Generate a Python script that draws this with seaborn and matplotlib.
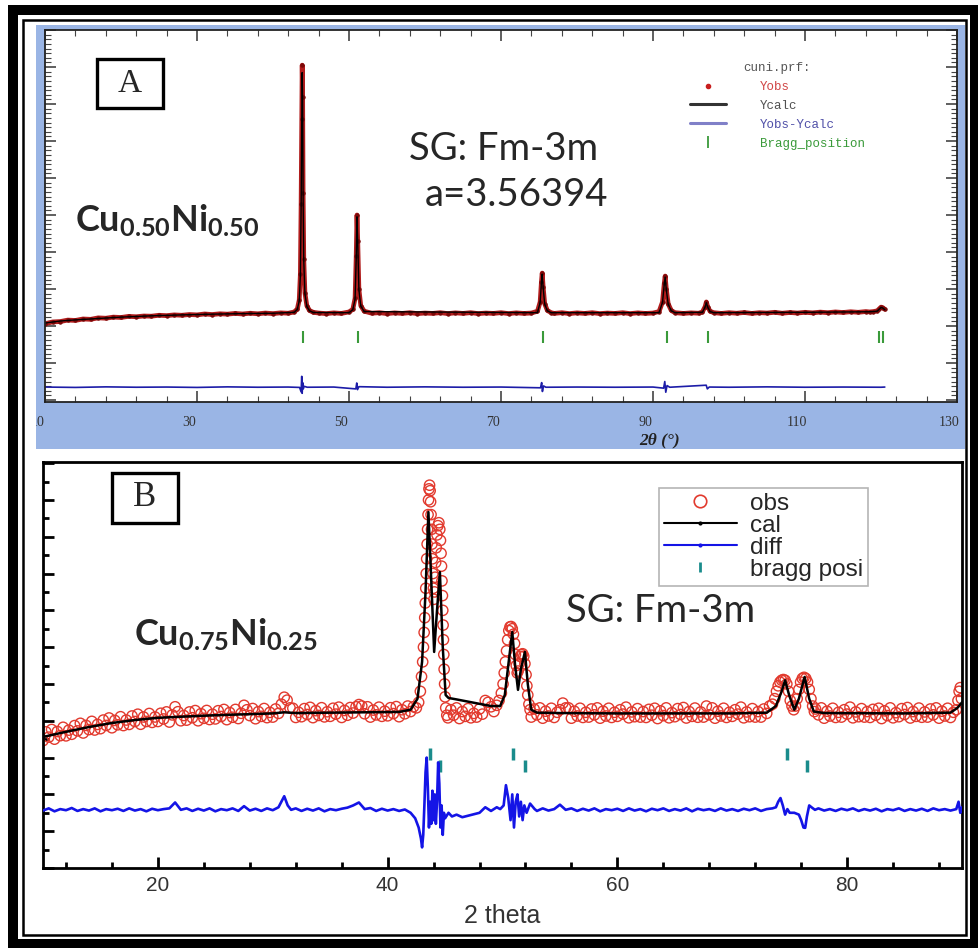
import matplotlib
matplotlib.use("Agg")
import matplotlib.pyplot as plt
import matplotlib.transforms as mtransforms
import seaborn as sns
from matplotlib.patches import Rectangle
from matplotlib.lines import Line2D
from matplotlib.ticker import MultipleLocator

W, H = 979, 948

# ---------------- Panel A : Cu0.50Ni0.50 (FullProf plot) ----------------
a_tth_obs = [10, 11, 12, 13, 14, 15, 16, 17, 18, 19,
             20, 21, 22, 23, 24, 25, 26, 27, 28, 29,
             30, 31, 32, 33, 34, 35, 36, 37, 38, 39,
             40, 41, 42, 42.8, 43.2, 43.45, 43.6, 43.7, 43.78, 43.84,
             43.9, 43.96, 44.05, 44.2, 44.45, 44.8, 45.3, 46, 47, 48,
             49, 50, 50.5, 50.8, 50.95, 51.05, 51.15, 51.3, 51.55, 52,
             53, 54, 55, 56, 57, 58, 59, 60, 61, 62,
             63, 64, 65, 66, 67, 68, 69, 70, 71, 72,
             73, 74, 74.8, 75.15, 75.32, 75.42, 75.55, 75.75, 76.1, 76.6,
             77, 78, 79, 80, 81, 82, 83, 84, 85, 86,
             87, 88, 89, 90, 90.8, 91.25, 91.48, 91.6, 91.75, 92.0,
             92.4, 92.9, 94, 95, 96, 96.5, 96.85, 97.02, 97.2, 97.5,
             98, 99, 100, 101, 102, 103, 104, 105, 106, 107,
             108, 109, 110, 111, 112, 113, 114, 115, 116, 117,
             118, 118.5, 119, 119.5, 119.8, 120.0, 120.2, 120.5]
a_obs = [2060, 2110, 2120, 2160, 2150, 2190, 2180, 2220, 2210, 2240,
         2230, 2260, 2250, 2270, 2265, 2290, 2280, 2300, 2290, 2310,
         2300, 2325, 2310, 2330, 2320, 2340, 2325, 2345, 2330, 2350,
         2335, 2355, 2345, 2380, 2460, 2700, 3400, 5300, 7600, 9050,
         8200, 5600, 3800, 2900, 2550, 2420, 2370, 2350, 2335, 2355,
         2340, 2380, 2450, 2750, 3900, 5000, 4300, 3000, 2550, 2400,
         2345, 2360, 2335, 2355, 2340, 2360, 2335, 2350, 2340, 2360,
         2335, 2355, 2340, 2360, 2335, 2350, 2340, 2360, 2335, 2355,
         2340, 2350, 2400, 2650, 3200, 3430, 3050, 2600, 2420, 2360,
         2340, 2360, 2335, 2355, 2340, 2360, 2335, 2350, 2340, 2360,
         2335, 2355, 2340, 2350, 2390, 2650, 3150, 3350, 3000, 2600,
         2420, 2360, 2340, 2355, 2345, 2380, 2520, 2650, 2520, 2400,
         2360, 2340, 2360, 2345, 2365, 2340, 2360, 2350, 2370, 2345,
         2365, 2350, 2370, 2355, 2375, 2360, 2380, 2365, 2385, 2370,
         2390, 2380, 2390, 2410, 2470, 2510, 2500, 2450]

a_tth_calc = [10, 12, 14, 16, 18, 20, 24, 28, 32, 36,
              40, 42.8, 43.2, 43.45, 43.6, 43.7, 43.78, 43.84, 43.9, 43.96,
              44.05, 44.2, 44.45, 44.8, 45.3, 50, 50.5, 50.8, 50.95, 51.05,
              51.15, 51.3, 51.55, 52, 74.8, 75.15, 75.32, 75.42, 75.55, 75.75,
              76.1, 76.6, 90.8, 91.25, 91.48, 91.6, 91.75, 92.0, 92.4, 92.9,
              96.5, 96.85, 97.02, 97.2, 97.5, 98, 110, 118.5, 119.5, 119.8,
              120.0, 120.2, 120.5]
a_calc = [2080, 2135, 2165, 2190, 2215, 2240, 2275, 2300, 2320, 2335,
          2345, 2370, 2450, 2680, 3350, 5200, 7500, 8850, 8100, 5500,
          3750, 2880, 2530, 2410, 2365, 2360, 2440, 2730, 3850, 4950,
          4250, 2980, 2540, 2390, 2360, 2640, 3180, 3400, 3030, 2590,
          2410, 2360, 2360, 2640, 3130, 3320, 2980, 2590, 2410, 2360,
          2370, 2510, 2630, 2510, 2390, 2360, 2370, 2385, 2400, 2460,
          2500, 2490, 2440]

a_tth_diff = [10, 14, 18, 22, 26, 30, 34, 38, 42, 43.5,
              43.7, 43.78, 43.84, 43.9, 43.98, 44.1, 44.5, 48, 50.9, 51.02,
              51.12, 51.3, 55, 60, 65, 70, 75.2, 75.35, 75.45, 75.6,
              75.9, 80, 85, 90, 91.4, 91.55, 91.68, 91.85, 92.2, 97.0,
              97.15, 97.4, 100, 105, 110, 115, 120, 120.5]
a_diff = [350, 340, 355, 345, 350, 340, 355, 345, 350, 340,
          220, 640, 180, 470, 300, 370, 345, 350, 300, 460,
          280, 360, 345, 355, 345, 350, 330, 470, 230, 380,
          345, 350, 345, 350, 320, 500, 210, 390, 345, 400,
          300, 350, 345, 355, 345, 350, 345, 350]

a_bragg = [43.9, 51.2, 75.5, 91.8, 97.2, 119.7, 120.2]
a_xticks = [10, 30, 50, 70, 90, 110, 130]
a_legend_labels = ["Yobs", "Ycalc", "Yobs-Ycalc", "Bragg_position"]

# ---------------- Panel B : Cu0.75Ni0.25 ----------------
b_tth_obs = [10.0, 10.25, 10.5, 10.75, 11.0, 11.25, 11.5, 11.75, 12.0, 12.25,
             12.5, 12.75, 13.0, 13.25, 13.5, 13.75, 14.0, 14.25, 14.5, 14.75,
             15.0, 15.25, 15.5, 15.75, 16.0, 16.25, 16.5, 16.75, 17.0, 17.25,
             17.5, 17.75, 18.0, 18.25, 18.5, 18.75, 19.0, 19.25, 19.5, 19.75,
             20.0, 20.25, 20.5, 20.75, 21.0, 21.25, 21.5, 21.75, 22.0, 22.25,
             22.5, 22.75, 23.0, 23.25, 23.5, 23.75, 24.0, 24.25, 24.5, 24.75,
             25.0, 25.25, 25.5, 25.75, 26.0, 26.25, 26.5, 26.75, 27.0, 27.25,
             27.5, 27.75, 28.0, 28.25, 28.5, 28.75, 29.0, 29.25, 29.5, 29.75,
             30.0, 30.25, 30.5, 30.75, 31.0, 31.25, 31.5, 31.75, 32.0, 32.25,
             32.5, 32.75, 33.0, 33.25, 33.5, 33.75, 34.0, 34.25, 34.5, 34.75,
             35.0, 35.25, 35.5, 35.75, 36.0, 36.25, 36.5, 36.75, 37.0, 37.25,
             37.5, 37.75, 38.0, 38.25, 38.5, 38.75, 39.0, 39.25, 39.5, 39.75,
             40.0, 40.25, 40.5, 40.75, 41.0, 41.25, 41.5, 41.75, 42.0, 42.25,
             42.5, 42.7, 42.85, 42.95, 43.05, 43.12, 43.18, 43.23, 43.28, 43.32,
             43.36, 43.4, 43.44, 43.48, 43.52, 43.56, 43.6, 43.65, 43.7, 43.74,
             43.78, 43.82, 43.86, 43.9, 43.94, 43.98, 44.03, 44.08, 44.13, 44.18,
             44.23, 44.3, 44.38, 44.46, 44.54, 44.6, 44.65, 44.69, 44.73, 44.77,
             44.8, 44.83, 44.86, 44.89, 44.92, 44.96, 45.0, 45.06, 45.15,
             45.25, 45.5, 45.75, 46.0, 46.25, 46.5, 46.75, 47.0, 47.25, 47.5,
             47.75, 48.0, 48.25, 48.5, 48.75, 49.0, 49.25, 49.5, 49.7, 49.9,
             50.05, 50.15, 50.25, 50.35, 50.45, 50.55, 50.65, 50.75, 50.85, 50.95,
             51.05, 51.12, 51.2, 51.28, 51.36, 51.45, 51.55, 51.65, 51.75, 51.85,
             51.95, 52.05, 52.12, 52.2, 52.3, 52.4,
             52.5, 52.75, 53.0, 53.25, 53.5, 53.75, 54.0, 54.25, 54.5, 54.75,
             55.0, 55.25, 55.5, 55.75, 56.0, 56.25, 56.5, 56.75, 57.0, 57.25,
             57.5, 57.75, 58.0, 58.25, 58.5, 58.75, 59.0, 59.25, 59.5, 59.75,
             60.0, 60.25, 60.5, 60.75, 61.0, 61.25, 61.5, 61.75, 62.0, 62.25,
             62.5, 62.75, 63.0, 63.25, 63.5, 63.75, 64.0, 64.25, 64.5, 64.75,
             65.0, 65.25, 65.5, 65.75, 66.0, 66.25, 66.5, 66.75, 67.0, 67.25,
             67.5, 67.75, 68.0, 68.25, 68.5, 68.75, 69.0, 69.25, 69.5, 69.75,
             70.0, 70.25, 70.5, 70.75, 71.0, 71.25, 71.5, 71.75, 72.0, 72.25,
             72.5, 72.75, 73.0, 73.25, 73.5,
             73.7, 73.85, 74.0, 74.15, 74.3, 74.45, 74.6, 74.75, 74.9, 75.05,
             75.2, 75.35, 75.5, 75.65, 75.8, 75.95, 76.1, 76.25, 76.4, 76.55,
             76.7, 76.85, 77.0, 77.15,
             77.25, 77.5, 77.75, 78.0, 78.25, 78.5, 78.75, 79.0, 79.25, 79.5,
             79.75, 80.0, 80.25, 80.5, 80.75, 81.0, 81.25, 81.5, 81.75, 82.0,
             82.25, 82.5, 82.75, 83.0, 83.25, 83.5, 83.75, 84.0, 84.25, 84.5,
             84.75, 85.0, 85.25, 85.5, 85.75, 86.0, 86.25, 86.5, 86.75, 87.0,
             87.25, 87.5, 87.75, 88.0, 88.25, 88.5, 88.75, 89.0, 89.25, 89.5,
             89.65, 89.75, 89.85, 89.95]
b_obs = [3460, 3698, 3555, 3763, 3500, 3708, 3595, 3823, 3590, 3746,
         3633, 3869, 3725, 3931, 3668, 3874, 3760, 3984, 3748, 3901,
         3785, 4019, 3873, 4076, 3810, 4010, 3890, 4110, 3870, 4020,
         3900, 4130, 3980, 4178, 3905, 4103, 3980, 4198, 3955, 4103,
         3980, 4204, 4048, 4241, 3965, 4159, 4380, 4246, 4000, 4143,
         4017, 4240, 4083, 4277, 4000, 4193, 4067, 4280, 4033, 4177,
         4050, 4273, 4115, 4308, 4030, 4223, 4095, 4308, 4060, 4203,
         4420, 4298, 4140, 4333, 4055, 4248, 4120, 4333, 4085, 4228,
         4100, 4320, 4200, 4450, 4640, 4560, 4350, 4340, 4090, 4230,
         4110, 4330, 4170, 4365, 4085, 4275, 4145, 4355, 4105, 4245,
         4120, 4340, 4180, 4370, 4090, 4280, 4150, 4360, 4210, 4380,
         4440, 4400, 4190, 4380, 4100, 4290, 4160, 4370, 4120, 4260,
         4135, 4355, 4195, 4385, 4110, 4300, 4190, 4400, 4250, 4380,
         4350, 4500, 4800, 5200, 5600, 6000, 6400, 6800, 7200, 7600,
         8000, 8400, 8800, 9200, 9600, 10000, 10300, 10400, 10250, 9950,
         9600, 9200, 8800, 8400, 8000, 7600, 7300, 7500, 7900, 8300,
         8700, 9050, 9300, 9380, 9200, 8900, 8550, 8200, 7800, 7400,
         7000, 6600, 6200, 5800, 5400, 5000, 4650, 4350, 4150,
         4080, 4300, 4150, 4350, 4060, 4250, 4120, 4330, 4080, 4200,
         4100, 4320, 4180, 4550, 4500, 4380, 4250, 4420, 4550, 4750,
         5000, 5300, 5600, 5900, 6200, 6450, 6550, 6560, 6500, 6350,
         6100, 5800, 5500, 5300, 5350, 5550, 5750, 5800, 5820, 5750,
         5550, 5250, 4950, 4700, 4450, 4300,
         4100, 4320, 4160, 4350, 4070, 4260, 4130, 4340, 4090, 4230,
         4300, 4480, 4350, 4350, 4070, 4260, 4130, 4340, 4090, 4230,
         4100, 4320, 4160, 4350, 4070, 4260, 4130, 4340, 4090, 4230,
         4120, 4300, 4180, 4370, 4080, 4240, 4110, 4330, 4100, 4250,
         4090, 4310, 4150, 4340, 4060, 4270, 4140, 4350, 4080, 4220,
         4110, 4330, 4170, 4360, 4075, 4250, 4120, 4345, 4095, 4240,
         4100, 4400, 4160, 4350, 4070, 4260, 4130, 4340, 4090, 4230,
         4120, 4300, 4180, 4370, 4080, 4240, 4110, 4330, 4100, 4250,
         4100, 4320, 4200, 4400, 4450,
         4600, 4800, 4950, 5050, 5100, 5120, 5100, 5000, 4800, 4550,
         4400, 4300, 4400, 4600, 4850, 5050, 5150, 5180, 5150, 5050,
         4850, 4600, 4400, 4250,
         4320, 4160, 4350, 4070, 4260, 4130, 4340, 4090, 4230, 4100,
         4300, 4180, 4370, 4080, 4240, 4110, 4330, 4100, 4250, 4090,
         4310, 4150, 4340, 4060, 4270, 4140, 4350, 4080, 4220, 4110,
         4330, 4170, 4360, 4075, 4250, 4120, 4345, 4095, 4240, 4100,
         4320, 4160, 4350, 4070, 4260, 4130, 4340, 4090, 4230, 4300,
         4550, 4800, 4900, 4600]

b_tth_calc = [10, 12, 14, 16, 18, 20, 22, 25, 28, 30,
              31, 32, 35, 38, 41, 42, 42.6, 43.0, 43.3, 43.55,
              43.8, 44.05, 44.3, 44.55, 44.8, 45.05, 45.3, 46, 47, 48,
              49, 49.8, 50.2, 50.5, 50.85, 51.1, 51.35, 51.6, 51.95, 52.2,
              52.5, 53, 55, 60, 65, 70, 73, 73.8, 74.3, 74.6,
              74.95, 75.4, 75.8, 76.3, 76.7, 77.1, 78, 85, 89, 89.6,
              90]
b_calc = [3560, 3700, 3830, 3940, 4020, 4080, 4110, 4150, 4180, 4200,
          4230, 4210, 4220, 4230, 4240, 4300, 4600, 5600, 7500, 9670,
          7800, 5870, 7000, 8040, 6000, 4700, 4620, 4580, 4520, 4460,
          4400, 4400, 4700, 5500, 6410, 5500, 4840, 5400, 5870, 5000,
          4300, 4220, 4210, 4200, 4200, 4200, 4220, 4400, 4800, 5100,
          4700, 4300, 4600, 5190, 4600, 4250, 4210, 4200, 4220, 4350,
          4500]

b_tth_diff = [10.0, 10.5, 11.0, 11.5, 12.0, 12.5, 13.0, 13.5, 14.0, 14.5,
              15.0, 15.5, 16.0, 16.5, 17.0, 17.5, 18.0, 18.5, 19.0, 19.5,
              20.0, 20.5, 21.0, 21.5, 22.0, 22.5, 23.0, 23.5, 24.0, 24.5,
              25.0, 25.5, 26.0, 26.5, 27.0, 27.5, 28.0, 28.5, 29.0, 29.5,
              30.0, 30.5, 31.0, 31.3, 31.6, 32.0, 32.5, 33.0, 33.5, 34.0,
              34.5, 35.0, 35.5, 36.0, 36.5, 37.0, 37.5, 38.0, 38.5, 39.0,
              39.5, 40.0, 40.5, 41.0, 41.5, 42.0, 42.4, 42.7, 42.9, 43.0,
              43.1, 43.2, 43.3, 43.4, 43.5, 43.6, 43.7, 43.8, 43.9, 44.0,
              44.1, 44.2, 44.3, 44.4, 44.5, 44.6, 44.7, 44.8, 44.9, 45.0,
              45.3, 45.6, 46.0, 46.5, 47.0, 47.5, 48.0, 48.5, 49.0, 49.5,
              49.8, 50.1, 50.3, 50.5, 50.7, 50.85, 51.0, 51.15, 51.3, 51.45,
              51.6, 51.75, 51.9, 52.1, 52.4, 52.8, 53.0, 53.5, 54.0, 54.5,
              55.0, 55.5, 56.0, 56.5, 57.0, 57.5, 58.0, 58.5, 59.0, 59.5,
              60.0, 60.5, 61.0, 61.5, 62.0, 62.5, 63.0, 63.5, 64.0, 64.5,
              65.0, 65.5, 66.0, 66.5, 67.0, 67.5, 68.0, 68.5, 69.0, 69.5,
              70.0, 70.5, 71.0, 71.5, 72.0, 72.5, 73.0, 73.5, 73.8, 74.0,
              74.2, 74.4, 74.6, 74.8, 75.0, 75.4, 75.8, 76.0, 76.2, 76.35,
              76.5, 76.7, 76.9, 77.2, 77.5, 78.0, 78.5, 79.0, 79.5, 80.0,
              80.5, 81.0, 81.5, 82.0, 82.5, 83.0, 83.5, 84.0, 84.5, 85.0,
              85.5, 86.0, 86.5, 87.0, 87.5, 88.0, 88.5, 89.0, 89.5, 89.7,
              89.85, 90.0]
b_diff = [1560, 1620, 1540, 1600, 1570, 1630, 1550, 1600, 1560, 1620,
          1540, 1600, 1570, 1610, 1550, 1620, 1560, 1600, 1540, 1610,
          1570, 1600, 1620, 1780, 1580, 1620, 1550, 1610, 1560, 1620,
          1540, 1600, 1570, 1620, 1550, 1680, 1560, 1610, 1550, 1620,
          1570, 1650, 1950, 1700, 1580, 1620, 1550, 1610, 1560, 1620,
          1540, 1600, 1570, 1610, 1640, 1700, 1780, 1600, 1630, 1550,
          1610, 1560, 1600, 1550, 1590, 1500, 1350, 1100, 800, 560,
          900, 1700, 2600, 3000, 2200, 1100, 1800, 1200, 2100, 1300,
          2000, 1200, 1800, 2870, 2300, 1100, 1700, 900, 1500, 1350,
          1500, 1400, 1450, 1380, 1420, 1460, 1500, 1650, 1550, 1650,
          1600, 1700, 2250, 1900, 1300, 2000, 1100, 1800, 2000, 1400,
          1800, 1300, 1700, 1500, 1750, 1600, 1550, 1620, 1560, 1600,
          1720, 1580, 1620, 1550, 1610, 1560, 1620, 1540, 1600, 1570,
          1610, 1550, 1620, 1560, 1600, 1540, 1610, 1570, 1620, 1550,
          1600, 1560, 1620, 1540, 1610, 1570, 1600, 1550, 1620, 1560,
          1600, 1550, 1610, 1570, 1620, 1550, 1600, 1620, 1650, 1800,
          1900, 1700, 1450, 1600, 1500, 1500, 1450, 1300, 1100, 1090,
          1400, 1700, 1650, 1580, 1620, 1560, 1600, 1550, 1610, 1570,
          1620, 1550, 1600, 1560, 1610, 1540, 1600, 1570, 1620, 1550,
          1600, 1560, 1610, 1550, 1620, 1570, 1600, 1560, 1600, 1800,
          1500, 1650]

b_bragg_row1 = [43.65, 50.9, 74.8]
b_bragg_row2 = [44.6, 52.0, 76.5]
b_legend_labels = ["obs", "cal", "diff", "bragg posi"]


def px_box(x0, y0, x1, y1):
    """pixel box (top-left origin) -> figure fraction [l, b, w, h]"""
    return [x0 / W, 1 - y1 / H, (x1 - x0) / W, (y1 - y0) / H]


def fig_rect(x0, y0, x1, y1, **kw):
    l, b, w, h = px_box(x0, y0, x1, y1)
    r = Rectangle((l, b), w, h, transform=fig.transFigure, **kw)
    fig.add_artist(r)
    return r


sns.set_style("white")
plt.rcParams["font.family"] = ["Liberation Sans", "DejaVu Sans"]
plt.rcParams["mathtext.fontset"] = "custom"
plt.rcParams["mathtext.rm"] = "Lato"
plt.rcParams["mathtext.bf"] = "Lato:bold"
plt.rcParams["mathtext.it"] = "Lato:italic"

fig = plt.figure(figsize=(W / 100, H / 100), dpi=100)
fig.patch.set_facecolor("white")

# blue panel behind plot A
fig_rect(36, 25, 965, 449, facecolor="#9ab5e5", edgecolor="none", zorder=-5)
blue_clip = mtransforms.TransformedBbox(
    mtransforms.Bbox.from_extents(36 / W, 1 - 449 / H, 965 / W, 1 - 25 / H),
    fig.transFigure)

# ---------- panel A ----------
axA = fig.add_axes(px_box(45, 30, 957, 402))
axA.set_facecolor("white")
sns.lineplot(x=a_tth_obs, y=a_obs, ax=axA, color="#b01c1c", lw=3.4,
             marker="o", ms=2.4, mec="#7a0808", mfc="#7a0808")
sns.lineplot(x=a_tth_calc, y=a_calc, ax=axA, color="black", lw=1.0)
sns.lineplot(x=a_tth_diff, y=a_diff, ax=axA, color="#1c1ca8", lw=1.2)
axA.plot(a_bragg, [1690] * len(a_bragg), ls="none", marker="|", ms=9,
         mew=1.5, color="#3a9a3a")

axA.set_xlim(10, 130)
axA.set_ylim(-54, 10000)
axA.set_xticks(a_xticks)
axA.xaxis.set_minor_locator(MultipleLocator(4, offset=2))
axA.yaxis.set_major_locator(MultipleLocator(1000))
axA.yaxis.set_minor_locator(MultipleLocator(125))
axA.tick_params(which="both", direction="in", top=True, right=True,
                left=True, bottom=True, color="#444444",
                labelleft=False, labelbottom=False)
axA.tick_params(which="major", length=8, width=1.2)
axA.tick_params(which="minor", length=4, width=0.8)
axA.set_xlabel("")
axA.set_ylabel("")
for sp in axA.spines.values():
    sp.set_color("#222222")
    sp.set_linewidth(1.3)

# tick labels sit a little left of their ticks and are cut by the blue panel edge
lab_tr = mtransforms.blended_transform_factory(axA.transData, fig.transFigure)
for t in a_xticks:
    lbl = axA.text(t - 1.0, 1 - 422 / H, str(t), transform=lab_tr,
                   ha="center", va="center", fontfamily="Liberation Serif",
                   fontsize=10, color="#333333")
    lbl.set_clip_box(blue_clip)
    lbl.set_clip_on(True)

hA = [Line2D([], [], ls="none", marker="o", ms=3, color="#c81e1e"),
      Line2D([], [], color="#333333", lw=2.2),
      Line2D([], [], color="#8080c8", lw=2.2),
      Line2D([], [], ls="none", marker="|", ms=9, mew=1.3, color="#3a9a3a")]
legA = axA.legend(hA, a_legend_labels, title="cuni.prf:", loc="upper left",
                  bbox_to_anchor=((690 - 45) / 912, (402 - 62) / 372),
                  frameon=False, borderaxespad=0, borderpad=0,
                  prop={"family": "Liberation Mono", "size": 9},
                  title_fontproperties={"family": "Liberation Mono", "size": 9},
                  handlelength=2.9, handletextpad=2.7, labelspacing=0.55)
for t, c in zip(legA.get_texts(), ["#d04545", "#505050", "#5050a8", "#3a9a3a"]):
    t.set_color(c)
legA.get_title().set_color("#555555")

fig.text(660 / W, 1 - 440 / H, "2θ (°)", ha="center", va="center",
         fontfamily="Liberation Serif", fontweight="bold", fontstyle="italic",
         fontsize=12.5, color="#222222")

fig_rect(97, 59, 163, 108, facecolor="white", edgecolor="black", lw=2.4, zorder=5)
fig.text(130 / W, 1 - 84 / H, "A", ha="center", va="center",
         fontfamily="Liberation Serif", fontsize=24, zorder=6)
fig.text(75 / W, 1 - 231 / H, r"$\mathbf{Cu_{0.50}Ni_{0.50}}$", fontsize=26,
         va="baseline")
fig.text(409 / W, 1 - 160 / H, "SG: Fm-3m", fontfamily="Lato", fontsize=27.5,
         va="baseline")
fig.text(425 / W, 1 - 206 / H, "a=3.56394", fontfamily="Lato", fontsize=27.5,
         va="baseline")

# ---------- panel B ----------
axB = fig.add_axes(px_box(43, 462, 962, 868))
axB.set_facecolor("white")
sns.scatterplot(x=b_tth_obs, y=b_obs, ax=axB, marker="o", s=55,
                facecolors="none", edgecolor="#e23a2e", linewidth=1.0, zorder=2)
sns.lineplot(x=b_tth_calc, y=b_calc, ax=axB, color="black", lw=1.8, zorder=3)
sns.lineplot(x=b_tth_diff, y=b_diff, ax=axB, color="#1414e6", lw=1.9, zorder=3)
axB.plot(b_bragg_row1, [3100] * len(b_bragg_row1), ls="none", marker="|",
         ms=8, mew=2.5, color="#1a8c8c")
axB.plot(b_bragg_row2, [2770] * len(b_bragg_row2), ls="none", marker="|",
         ms=8, mew=2.5, color="#1a8c8c")

axB.set_xlim(10, 90)
axB.set_ylim(0, 11030)
axB.xaxis.set_major_locator(MultipleLocator(20))
axB.xaxis.set_minor_locator(MultipleLocator(4))
axB.yaxis.set_major_locator(MultipleLocator(1000))
axB.yaxis.set_minor_locator(MultipleLocator(500))
axB.tick_params(which="both", direction="in", top=False, right=False,
                left=True, bottom=True, color="black", labelleft=False,
                labelsize=15, labelcolor="#333333", pad=6)
axB.tick_params(which="major", length=8, width=2)
axB.tick_params(which="minor", length=4, width=2)
axB.set_ylabel("")
axB.set_xlabel("2 theta", fontsize=18, color="#333333", labelpad=6)
for sp in axB.spines.values():
    sp.set_color("black")
    sp.set_linewidth(2)

hB = [Line2D([], [], ls="none", marker="o", ms=9, mfc="none", mec="#e23a2e", mew=1.2),
      Line2D([], [], color="black", lw=1.5, marker=".", ms=4),
      Line2D([], [], color="#1414e6", lw=1.5, marker=".", ms=4),
      Line2D([], [], ls="none", marker="|", ms=7, mew=2, color="#1a8c8c")]
legB = axB.legend(hB, b_legend_labels, loc="upper left",
                  bbox_to_anchor=((659 - 43) / 919, (868 - 488) / 406),
                  borderaxespad=0, fancybox=False, edgecolor="#b5b5b5",
                  framealpha=1, prop={"family": "Liberation Sans", "size": 17.5},
                  handlelength=3.0, handletextpad=0.55, labelspacing=0.0,
                  borderpad=0.2)
legB.get_frame().set_linewidth(1.2)

fig_rect(112, 473, 178, 523, facecolor="white", edgecolor="black", lw=2.4, zorder=5)
fig.text(145 / W, 1 - 498 / H, "B", ha="center", va="center",
         fontfamily="Liberation Serif", fontsize=25, zorder=6)
fig.text(134 / W, 1 - 645 / H, r"$\mathbf{Cu_{0.75}Ni_{0.25}}$", fontsize=26,
         va="baseline")
fig.text(566 / W, 1 - 622 / H, "SG: Fm-3m", fontfamily="Lato", fontsize=27.5,
         va="baseline")

# ---------- outer double frame ----------
fig_rect(8, 5, 979, 15, facecolor="black", edgecolor="none", zorder=10)
fig_rect(8, 5, 18, 948, facecolor="black", edgecolor="none", zorder=10)
fig_rect(970, 5, 979, 948, facecolor="black", edgecolor="none", zorder=10)
fig_rect(8, 939, 979, 948, facecolor="black", edgecolor="none", zorder=10)
fig_rect(23.5, 20, 966.5, 935, facecolor="none", edgecolor="black", lw=1.8, zorder=10)

fig.savefig("out.png", dpi=100)
